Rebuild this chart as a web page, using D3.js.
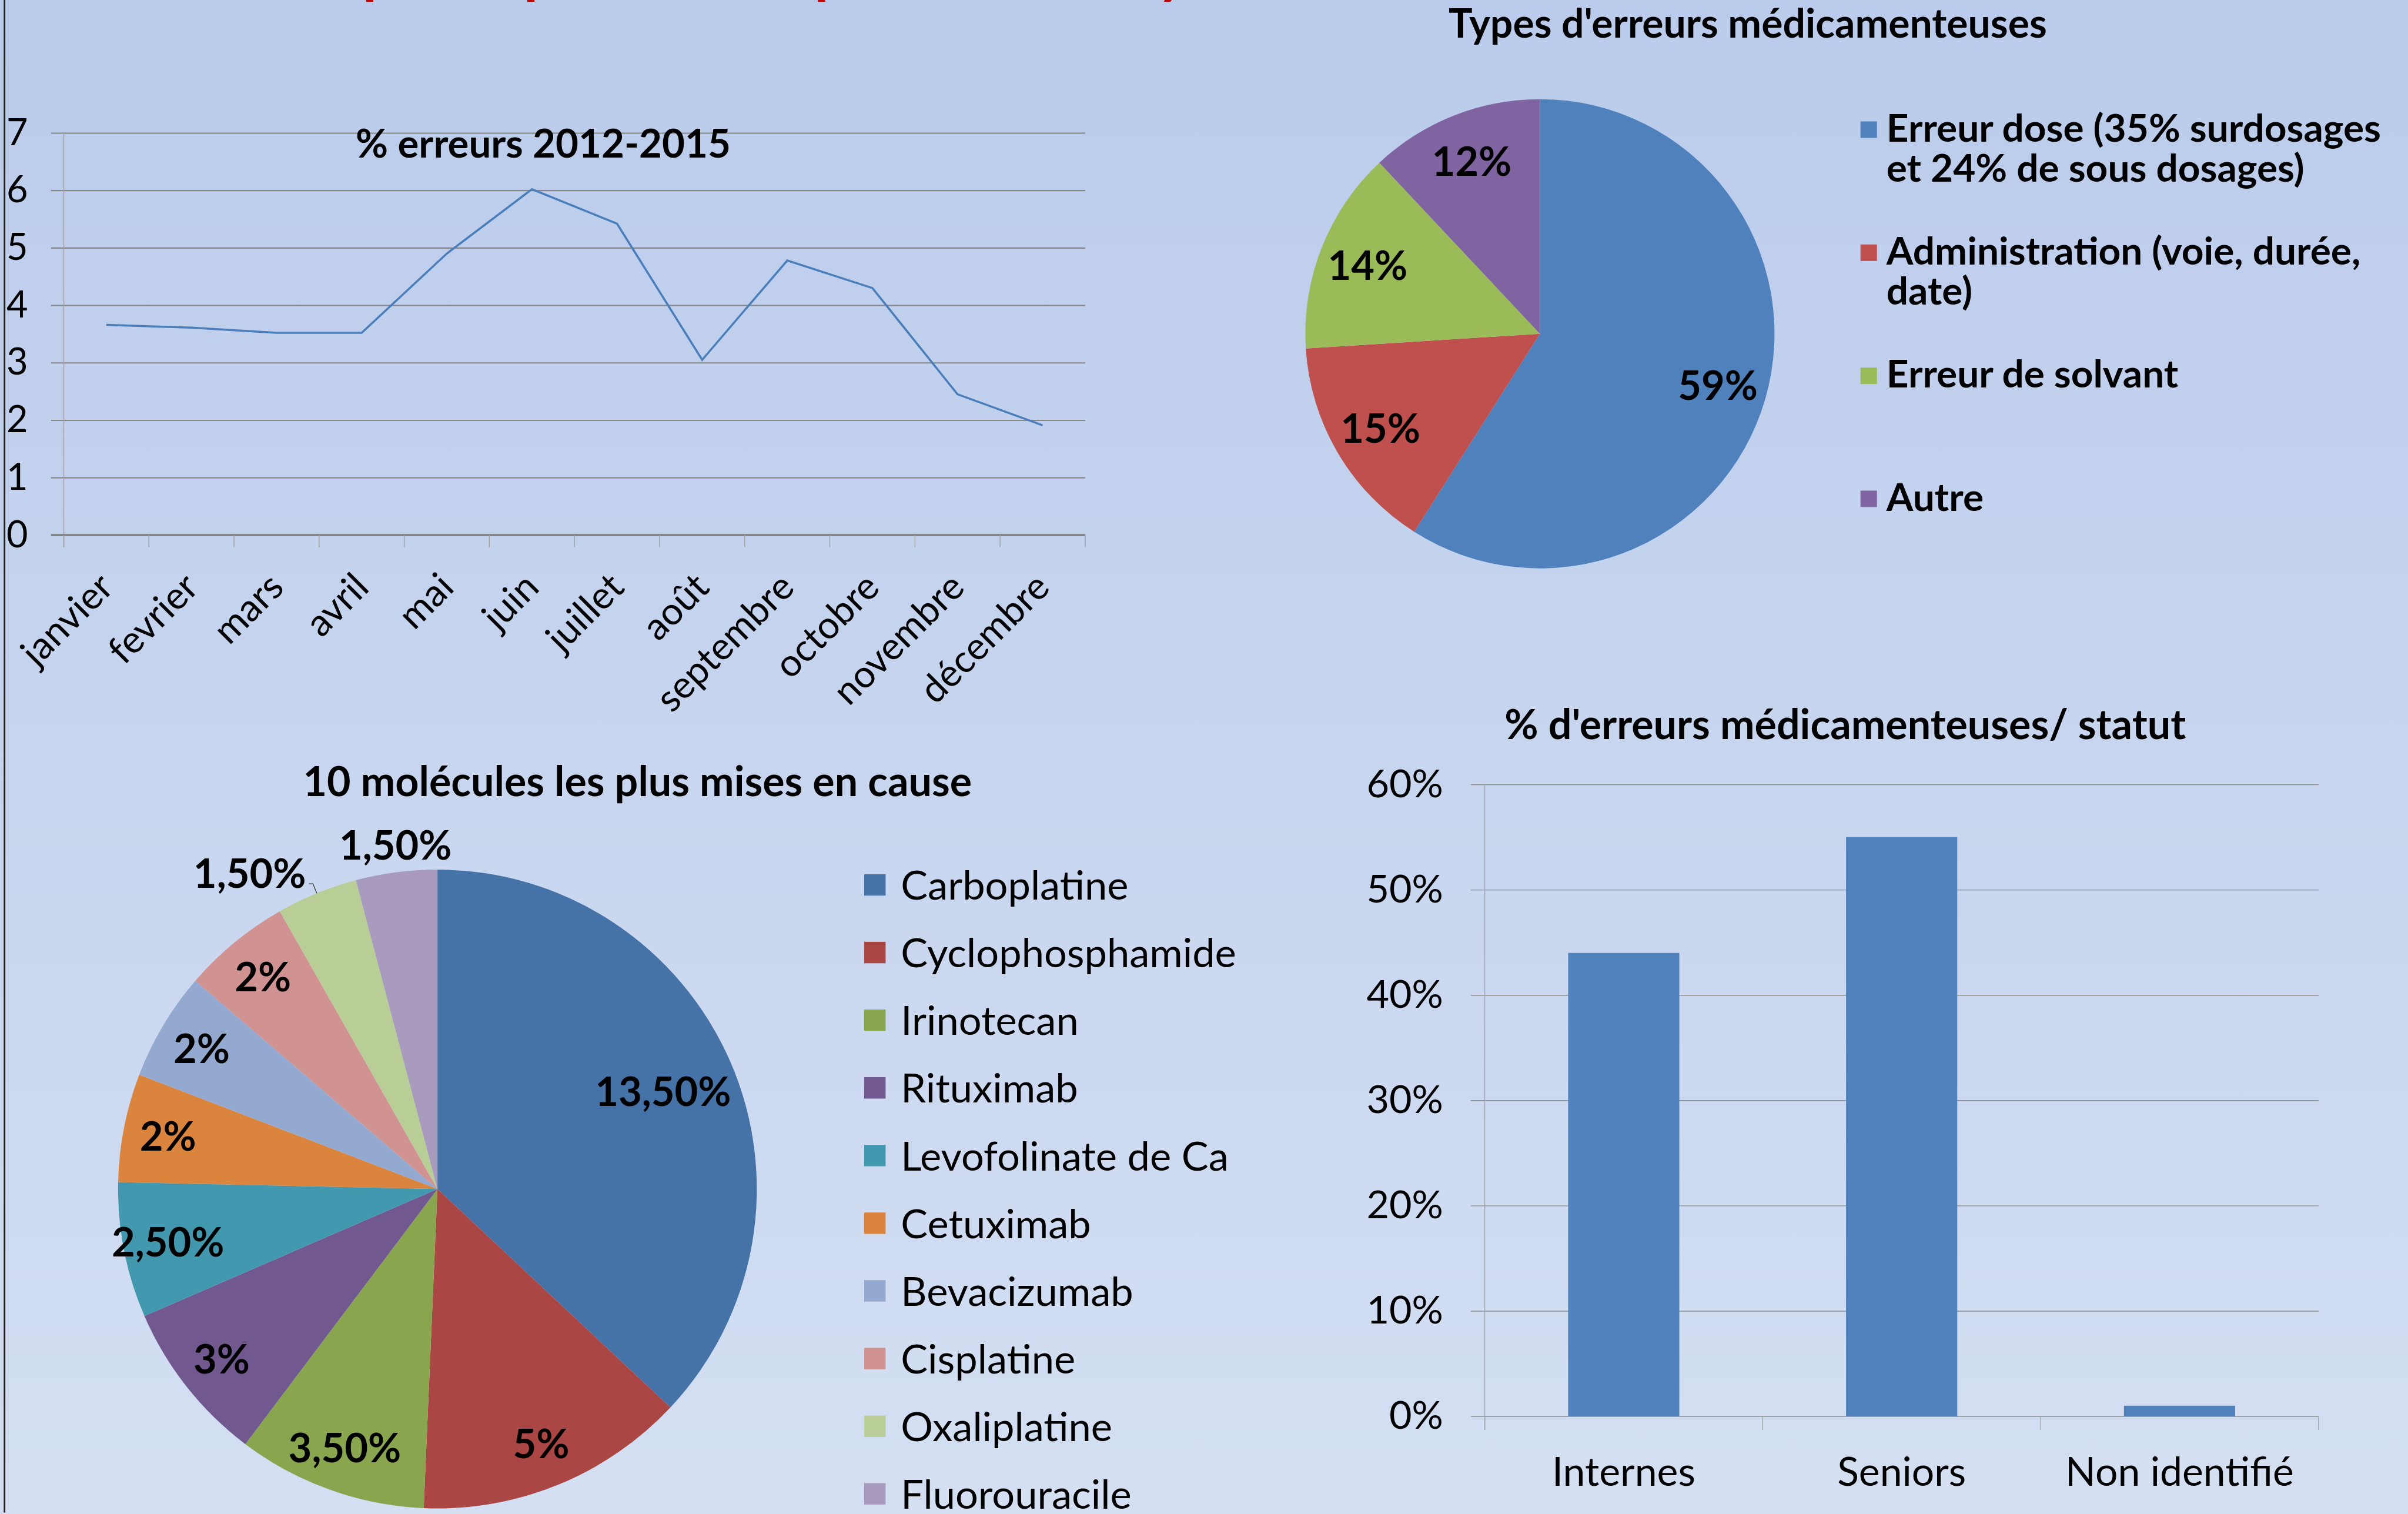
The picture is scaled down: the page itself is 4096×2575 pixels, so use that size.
<!DOCTYPE html>
<html>
<head>
<meta charset="utf-8">
<script src="https://cdn.jsdelivr.net/npm/d3@7"></script>
<style>
	body { margin: 0; overflow: hidden; }
	text { font-family: Lato, 'Open Sans', sans-serif; fill: #000; }
</style>
</head>
<body>
<div id="chart"></div>
<script>
// ---- data ----
var months      = ['janvier', 'fevrier', 'mars', 'avril', 'mai', 'juin', 'juillet', 'août', 'septembre', 'octobre', 'novembre', 'décembre'];
var error_rates = [3.66, 3.61, 3.52, 3.52, 4.90, 6.02, 5.42, 3.05, 4.78, 4.30, 2.45, 1.91];
var line_ticks  = [0, 1, 2, 3, 4, 5, 6, 7];

var error_types  = ['Erreur dose (35% surdosages et 24% de sous dosages)', 'Administration (voie, durée, date)', 'Erreur de solvant', 'Autre'];
var error_shares = [59, 15, 14, 12];

var molecules       = ['Carboplatine', 'Cyclophosphamide', 'Irinotecan', 'Rituximab', 'Levofolinate de Ca', 'Cetuximab', 'Bevacizumab', 'Cisplatine', 'Oxaliplatine', 'Fluorouracile'];
var molecule_shares = [13.5, 5, 3.5, 3, 2.5, 2, 2, 2, 1.5, 1.5];

var statuts       = ['Internes', 'Seniors', 'Non identifié'];
var statut_shares = [0.44, 0.55, 0.01];
var bar_ticks     = [0, 0.1, 0.2, 0.3, 0.4, 0.5, 0.6];

// ---- colours ----
var types_colors    = ['#4F81BD', '#C0504D', '#9BBB59', '#8064A2'];
var molecule_colors = ['#4572A7', '#AA4643', '#89A54E', '#71588F', '#4198AF', '#DB843D', '#93A9CF', '#D19392', '#B9CD96', '#A99BBD'];

var width  = 4096;
var height = 2575;
var k      = 0.7;   // reference pixels -> page pixels

var svg = d3.select('#chart')
			.append('svg')
			.attr('width', width)
			.attr('height', height);

var grad = svg.append('defs')
			.append('linearGradient')
			.attr('id', 'bg')
			.attr('x1', 0).attr('y1', 0).attr('x2', 0).attr('y2', 1);
grad.append('stop').attr('offset', '0%').attr('stop-color', '#BACBEB');
grad.append('stop').attr('offset', '100%').attr('stop-color', '#D4DFF2');

svg.append('rect')
   .attr('width', width)
   .attr('height', height)
   .attr('fill', 'url(#bg)');

// everything below is laid out in reference pixels
var page = svg.append('g').attr('transform', 'scale(' + k + ')');

page.append('line')
	.attr('x1', 11).attr('x2', 11)
	.attr('y1', 0).attr('y2', 3675)
	.attr('stroke', '#1F1F1F')
	.attr('stroke-width', 4);

// cut-off red slide title, only the descenders are visible
var cut_title = page.append('text')
	.attr('y', -18)
	.attr('font-size', 140)
	.attr('font-weight', 'bold')
	.style('fill', '#C00000');
[['p', 881], ['p', 1273], ['p', 1979], ['y', 2812]].forEach(function(c) {
	cut_title.append('tspan').attr('x', c[1]).text(c[0]);
});

function percent_label(v) {
	return (v % 1 === 0 ? v : v.toFixed(2).replace('.', ',')) + '%';
}

function wrap(sel, max_width, line_height) {
	sel.each(function() {
		var t = d3.select(this);
		var words = t.text().split(' ');
		var x = t.attr('x');
		var line = [];
		t.text(null);
		var tspan = t.append('tspan').attr('x', x);
		words.forEach(function(w) {
			line.push(w);
			tspan.text(line.join(' '));
			if (tspan.node().getComputedTextLength() > max_width && line.length > 1) {
				line.pop();
				tspan.text(line.join(' '));
				line = [w];
				tspan = t.append('tspan').attr('x', x).attr('dy', line_height).text(w);
			}
		});
	});
}

// =============== line chart ===============
var lc_left = 155, lc_right = 2637, lc_grid_left = 124;

var x_line = d3.scaleBand()
			.domain(months)
			.range([lc_left, lc_right]);

var y_line = d3.scaleLinear()
			.domain([0, 7])
			.range([1300, 323]);

var lc = page.append('g');

lc.append('g')
  .attr('transform', 'translate(' + lc_grid_left + ',0)')
  .call(d3.axisLeft(y_line)
		.tickValues(line_ticks)
		.tickFormat(d3.format('d'))
		.tickSizeInner(-(lc_right - lc_grid_left))
		.tickSizeOuter(0)
		.tickPadding(56))
  .call(function(g) { g.select('.domain').remove(); })
  .call(function(g) {
	g.selectAll('line').attr('stroke', '#878787').attr('stroke-width', 3);
	g.selectAll('text').attr('font-size', 90);
  });

lc.append('line')
  .attr('x1', lc_left).attr('x2', lc_left)
  .attr('y1', y_line(7)).attr('y2', y_line(0) + 30)
  .attr('stroke', '#A0A0A0')
  .attr('stroke-width', 2);

lc.append('line')
  .attr('x1', lc_grid_left).attr('x2', lc_right)
  .attr('y1', y_line(0)).attr('y2', y_line(0))
  .attr('stroke', '#808080')
  .attr('stroke-width', 5);

lc.selectAll('.xtick')
  .data(months.map(function(m) { return x_line(m); }).concat([lc_right]))
  .enter()
  .append('line')
  .attr('x1', function(d) { return d; })
  .attr('x2', function(d) { return d; })
  .attr('y1', y_line(0))
  .attr('y2', y_line(0) + 30)
  .attr('stroke', '#A0A0A0')
  .attr('stroke-width', 2);

lc.selectAll('.month')
  .data(months)
  .enter()
  .append('text')
  .attr('text-anchor', 'end')
  .attr('font-size', 92)
  .attr('transform', function(d) {
	return 'translate(' + (x_line(d) + x_line.bandwidth() / 2 + 22) + ',1432) rotate(-45)';
  })
  .text(function(d) { return d; });

var line = d3.line()
		.x(function(d, i) { return x_line(months[i]) + x_line.bandwidth() / 2; })
		.y(function(d) { return y_line(d); });

lc.append('path')
  .datum(error_rates)
  .attr('fill', 'none')
  .attr('stroke', '#4A7EBB')
  .attr('stroke-width', 5)
  .attr('d', line);

lc.append('text')
  .attr('x', 1320).attr('y', 383)
  .attr('text-anchor', 'middle')
  .attr('font-size', 96)
  .attr('font-weight', 'bold')
  .text('% erreurs 2012-2015');

// =============== pie : types d'erreurs ===============
var pie = d3.pie().sort(null).value(function(d) { return d; });

var p1_r = 570;
var p1 = page.append('g').attr('transform', 'translate(3742,811)');
var arc1   = d3.arc().innerRadius(0).outerRadius(p1_r);
var label1 = d3.arc().innerRadius(p1_r * 0.79).outerRadius(p1_r * 0.79);

p1.selectAll('path')
  .data(pie(error_shares))
  .enter()
  .append('path')
  .attr('d', arc1)
  .attr('fill', function(d, i) { return types_colors[i]; });

p1.selectAll('text')
  .data(pie(error_shares))
  .enter()
  .append('text')
  .attr('transform', function(d) { return 'translate(' + label1.centroid(d) + ')'; })
  .attr('dy', '0.36em')
  .attr('text-anchor', 'middle')
  .attr('font-size', 98)
  .attr('font-weight', 'bold')
  .text(function(d) { return d.data + '%'; });

page.append('text')
	.attr('x', 4247).attr('y', 92)
	.attr('text-anchor', 'middle')
	.attr('font-size', 97)
	.attr('font-weight', 'bold')
	.text("Types d'erreurs médicamenteuses");

var leg1 = page.selectAll('.leg1')
	.data(error_types)
	.enter()
	.append('g')
	.attr('transform', function(d, i) { return 'translate(4521,' + (315 + i * 299) + ')'; });

leg1.append('rect')
	.attr('x', 0).attr('y', -20)
	.attr('width', 40).attr('height', 40)
	.attr('fill', function(d, i) { return types_colors[i]; });

leg1.append('text')
	.attr('x', 63).attr('y', 29)
	.attr('font-size', 94)
	.attr('font-weight', 'bold')
	.text(function(d) { return d; })
	.call(wrap, 1250, 97);

// =============== pie : 10 molécules ===============
var p2_r = 776;
var p2 = page.append('g').attr('transform', 'translate(1063,2889)');
var arc2 = d3.arc().innerRadius(0).outerRadius(p2_r);
var pie2 = pie(molecule_shares);

p2.selectAll('path')
  .data(pie2)
  .enter()
  .append('path')
  .attr('d', arc2)
  .attr('fill', function(d, i) { return molecule_colors[i]; });

pie2.forEach(function(d) {
	var span = d.endAngle - d.startAngle;
	var mid = (d.startAngle + d.endAngle) / 2;
	var lab = p2.append('text')
		.attr('font-size', 98)
		.attr('font-weight', 'bold')
		.text(percent_label(d.data));
	if (span > 0.2967) {
		var r = span > Math.PI / 2 ? p2_r * 0.77 : p2_r * 0.86;
		var c = d3.arc().innerRadius(r).outerRadius(r).centroid(d);
		lab.attr('x', c[0]).attr('y', c[1]).attr('dy', '0.36em').attr('text-anchor', 'middle');
	} else if (Math.abs(Math.sin(mid)) < 0.2) {
		var q = [Math.sin(mid) * p2_r * 1.02, -Math.cos(mid) * p2_r * 1.02];
		lab.attr('x', q[0]).attr('y', q[1] - 15).attr('text-anchor', 'middle');
	} else {
		var e = [Math.sin(mid) * p2_r, -Math.cos(mid) * p2_r];
		var q2 = [Math.sin(mid) * p2_r * 1.032, -Math.cos(mid) * p2_r * 1.032];
		p2.append('polyline')
		  .attr('points', [e, q2, [q2[0] - 10, q2[1]]].join(' '))
		  .attr('fill', 'none')
		  .attr('stroke', '#404040')
		  .attr('stroke-width', 2);
		lab.attr('x', q2[0] - 17).attr('y', q2[1] + 9).attr('text-anchor', 'end');
	}
});

page.append('text')
	.attr('x', 1549).attr('y', 1934)
	.attr('text-anchor', 'middle')
	.attr('font-size', 100)
	.attr('font-weight', 'bold')
	.text('10 molécules les plus mises en cause');

var leg2 = page.selectAll('.leg2')
	.data(molecules)
	.enter()
	.append('g')
	.attr('transform', function(d, i) { return 'translate(2100,' + (2150 + i * 164.4) + ')'; });

leg2.append('rect')
	.attr('x', 0).attr('y', -26)
	.attr('width', 52).attr('height', 52)
	.attr('fill', function(d, i) { return molecule_colors[i]; });

leg2.append('text')
	.attr('x', 89).attr('y', 36)
	.attr('font-size', 98)
	.text(function(d) { return d; });

// =============== bar chart ===============
var bc_left = 3608, bc_right = 5634, bc_grid_left = 3574;

var x_bar = d3.scaleBand()
			.domain(statuts)
			.range([bc_left, bc_right])
			.paddingInner(0.6)
			.paddingOuter(0.3);

var y_bar = d3.scaleLinear()
			.domain([0, 0.6])
			.range([3441, 1906]);

var bc = page.append('g');

bc.append('g')
  .attr('transform', 'translate(' + bc_grid_left + ',0)')
  .call(d3.axisLeft(y_bar)
		.tickValues(bar_ticks)
		.tickFormat(d3.format('.0%'))
		.tickSizeInner(-(bc_right - bc_grid_left))
		.tickSizeOuter(0)
		.tickPadding(67))
  .call(function(g) { g.select('.domain').remove(); })
  .call(function(g) {
	g.selectAll('line').attr('stroke', '#8C8C8C').attr('stroke-width', 2);
	g.selectAll('text').attr('font-size', 95);
  });

bc.append('line')
  .attr('x1', bc_left).attr('x2', bc_left)
  .attr('y1', y_bar(0.6)).attr('y2', y_bar(0) + 33)
  .attr('stroke', '#A6A6A6')
  .attr('stroke-width', 2);

bc.selectAll('.btick')
  .data(d3.range(statuts.length + 1))
  .enter()
  .append('line')
  .attr('x1', function(i) { return bc_left + i * (bc_right - bc_left) / statuts.length; })
  .attr('x2', function(i) { return bc_left + i * (bc_right - bc_left) / statuts.length; })
  .attr('y1', y_bar(0))
  .attr('y2', y_bar(0) + 33)
  .attr('stroke', '#A6A6A6')
  .attr('stroke-width', 2);

bc.selectAll('rect')
  .data(statut_shares)
  .enter()
  .append('rect')
  .attr('x', function(d, i) { return x_bar(statuts[i]); })
  .attr('y', function(d) { return y_bar(d); })
  .attr('width', x_bar.bandwidth())
  .attr('height', function(d) { return y_bar(0) - y_bar(d); })
  .attr('fill', '#4F81BD');

bc.selectAll('.cat')
  .data(statuts)
  .enter()
  .append('text')
  .attr('x', function(d) { return x_bar(d) + x_bar.bandwidth() / 2; })
  .attr('y', 3610)
  .attr('text-anchor', 'middle')
  .attr('font-size', 97)
  .text(function(d) { return d; });

page.append('text')
	.attr('x', 4484).attr('y', 1795)
	.attr('text-anchor', 'middle')
	.attr('font-size', 100)
	.attr('font-weight', 'bold')
	.text("% d'erreurs médicamenteuses/ statut");
</script>
</body>
</html>
